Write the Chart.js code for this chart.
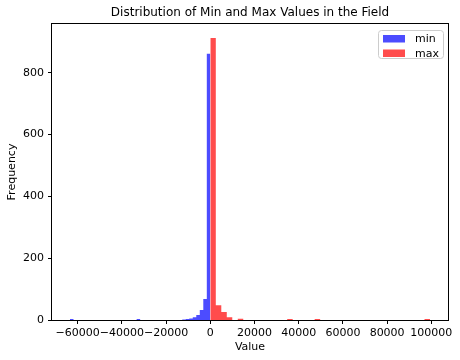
<!DOCTYPE html>
<html><head><meta charset="utf-8">
<script src="https://cdn.jsdelivr.net/npm/chart.js@4/dist/chart.umd.min.js"></script>
<style>html,body{margin:0;padding:0;background:#fff}#wrap{width:460px;height:360px;position:relative}</style>
</head><body><div id="wrap"><canvas id="c" width="460" height="360"></canvas></div>
<script>
// ---- data ----
const titleText = 'Distribution of Min and Max Values in the Field';
const seriesNames = ['min', 'max'];
const minRange = [-63485, 0];      // histogram range of the "min" values
const maxRange = [0, 99400];       // histogram range of the "max" values
// 40 bins each
const minCounts = [3,0,0,0,0,0,0,0,0,0, 0,0,0,0,0,0,0,0,0,3, 0,0,0,0,0,0,0,0,0,0, 0,0,2,3,5,9,16,32,68,861];
const maxCounts = [912,48,26,9,0,4,0,0,0,0, 0,0,0,0,3,0,0,0,0,3, 0,0,0,0,0,0,0,0,0,0, 0,0,0,0,0,0,0,0,0,3];
const xTicks = [-60000,-40000,-20000,0,20000,40000,60000,80000,100000];
const yTicks = [0,200,400,600,800];
const xLabel = 'Value';
const yLabel = 'Frequency';

function stepPoints(range, counts) {
  const w = (range[1] - range[0]) / counts.length;
  const pts = counts.map((c, i) => ({x: range[0] + i * w, y: c}));
  pts.push({x: range[1], y: counts[counts.length - 1]});
  return pts;
}
const allLo = Math.min(minRange[0], maxRange[0]);
const allHi = Math.max(minRange[1], maxRange[1]);
const pad = (allHi - allLo) * 0.05;
const yMax = Math.max(...minCounts, ...maxCounts) * 1.05;

const FONT = 'DejaVu Sans';
const fmt = v => (v < 0 ? '\u2212' + Math.abs(v) : String(v));

const decor = {
  id: 'decor',
  afterDatasetsDraw(chart) {
    const {ctx, chartArea: a} = chart;
    ctx.save();
    ctx.strokeStyle = '#000'; ctx.lineWidth = 1;
    const l = Math.round(a.left), t = Math.round(a.top), r = Math.round(a.right), b = Math.round(a.bottom);
    ctx.strokeRect(l - 0.5, t - 0.5, r - l + 1, b - t + 1);
    ctx.restore();
  },
  afterDraw(chart) {
    const {ctx, chartArea: a} = chart;
    ctx.save();
    // title
    ctx.fillStyle = '#000';
    ctx.font = '12px "' + FONT + '"';
    ctx.textAlign = 'center'; ctx.textBaseline = 'middle';
    ctx.fillText(titleText, (a.left + a.right) / 2, 13);
    // legend
    const bx = a.right - 70, by = a.top + 6, bw = 65, bh = 28;
    ctx.beginPath();
    ctx.roundRect(bx + 0.5, by + 0.5, bw, bh, 3);
    ctx.fillStyle = 'rgba(255,255,255,0.8)'; ctx.fill();
    ctx.strokeStyle = '#cccccc'; ctx.lineWidth = 1; ctx.stroke();
    const cols = chart.data.datasets.map(d => d.backgroundColor);
    ctx.font = '11px "' + FONT + '"';
    ctx.textAlign = 'left';
    seriesNames.forEach((n, i) => {
      const ry = by + 5 + i * 14.5;
      ctx.fillStyle = cols[i];
      ctx.fillRect(bx + 5, ry, 22, 7.5);
      ctx.fillStyle = '#000';
      ctx.fillText(n, bx + 37, ry + 4.2);
    });
    ctx.restore();
  }
};

new Chart(document.getElementById('c'), {
  type: 'line',
  data: {
    datasets: [
      {label: seriesNames[0], data: stepPoints(minRange, minCounts), stepped: true, fill: 'origin',
       backgroundColor: 'rgba(0,0,255,0.7)', borderColor: 'rgba(0,0,0,0)', borderWidth: 0, pointRadius: 0, order: 2},
      {label: seriesNames[1], data: stepPoints(maxRange, maxCounts), stepped: true, fill: 'origin',
       backgroundColor: 'rgba(255,0,0,0.7)', borderColor: 'rgba(0,0,0,0)', borderWidth: 0, pointRadius: 0, order: 1}
    ]
  },
  options: {
    responsive: false, animation: false, devicePixelRatio: 1,
    layout: {padding: {top: 24, right: 12, left: 0, bottom: 0}},
    plugins: {legend: {display: false}, tooltip: {enabled: false}, title: {display: false}},
    scales: {
      x: {
        type: 'linear', min: allLo - pad, max: allHi + pad,
        afterBuildTicks: s => { s.ticks = xTicks.map(v => ({value: v})); },
        afterFit: s => { s.height = 40; },
        grid: {drawOnChartArea: false, drawTicks: true, tickLength: 4, tickColor: '#000', tickWidth: 1},
        border: {display: false},
        ticks: {color: '#000', font: {family: FONT, size: 11}, padding: 3, maxRotation: 0, autoSkip: false, callback: v => fmt(v)},
        title: {display: true, text: xLabel, color: '#000', font: {family: FONT, size: 11}, padding: {top: 0, bottom: 6}}
      },
      y: {
        type: 'linear', min: 0, max: yMax,
        afterBuildTicks: s => { s.ticks = yTicks.map(v => ({value: v})); },
        afterFit: s => { s.width = 52; },
        grid: {drawOnChartArea: false, drawTicks: true, tickLength: 4, tickColor: '#000', tickWidth: 1},
        border: {display: false},
        ticks: {color: '#000', font: {family: FONT, size: 11}, padding: 4, callback: v => fmt(v)},
        title: {display: true, text: yLabel, color: '#000', font: {family: FONT, size: 11}, padding: {top: 6, bottom: 0}}
      }
    }
  },
  plugins: [decor]
});
</script>
</body></html>
